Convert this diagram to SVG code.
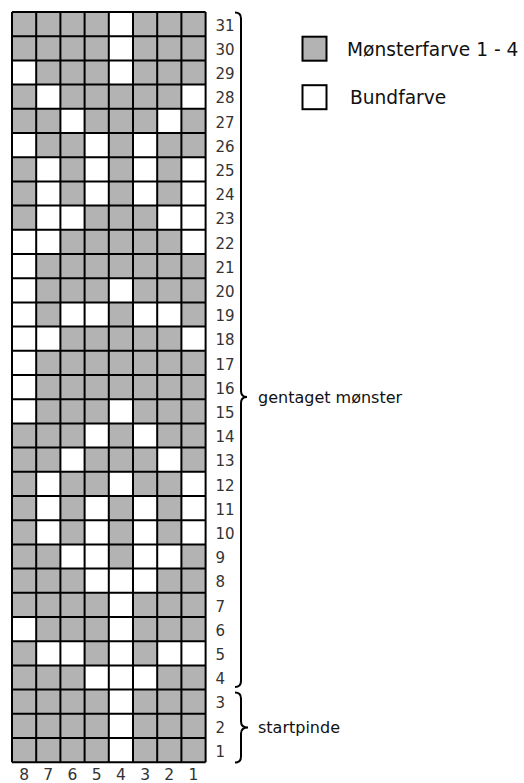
<svg xmlns="http://www.w3.org/2000/svg" width="524" height="783" viewBox="0 0 524 783">
<style>
text{font-family:"DejaVu Sans","Verdana",sans-serif;fill:#333}
.rn{font-size:15px}
.cn{font-size:15.5px;text-anchor:middle}
.lb{font-size:16px;fill:#111}
.lg{font-size:18.6px;fill:#111}
.w{fill:#fff}
.grid{fill:none;stroke:#000;stroke-width:2;vector-effect:non-scaling-stroke}
.br{fill:none;stroke:#000;stroke-width:2}
.box{stroke:#000;stroke-width:2}
</style>
<rect width="524" height="783" fill="#fff"/>
<g id="chart" transform="translate(12 12) scale(24.2)">
<rect x="0" y="0" width="8" height="31" fill="#b3b3b3"/>
<g class="w">
<rect x="4" y="0" width="1" height="1"/>
<rect x="4" y="1" width="1" height="1"/>
<rect x="0" y="2" width="1" height="1"/><rect x="4" y="2" width="1" height="1"/>
<rect x="1" y="3" width="1" height="1"/><rect x="7" y="3" width="1" height="1"/>
<rect x="2" y="4" width="1" height="1"/><rect x="6" y="4" width="1" height="1"/>
<rect x="0" y="5" width="1" height="1"/><rect x="3" y="5" width="1" height="1"/><rect x="5" y="5" width="1" height="1"/>
<rect x="1" y="6" width="1" height="1"/><rect x="3" y="6" width="1" height="1"/><rect x="5" y="6" width="1" height="1"/><rect x="7" y="6" width="1" height="1"/>
<rect x="1" y="7" width="1" height="1"/><rect x="3" y="7" width="1" height="1"/><rect x="5" y="7" width="1" height="1"/><rect x="7" y="7" width="1" height="1"/>
<rect x="1" y="8" width="2" height="1"/><rect x="6" y="8" width="2" height="1"/>
<rect x="0" y="9" width="2" height="1"/><rect x="7" y="9" width="1" height="1"/>
<rect x="0" y="10" width="1" height="1"/>
<rect x="0" y="11" width="1" height="1"/><rect x="4" y="11" width="1" height="1"/>
<rect x="0" y="12" width="1" height="1"/><rect x="2" y="12" width="2" height="1"/><rect x="5" y="12" width="2" height="1"/>
<rect x="0" y="13" width="2" height="1"/><rect x="7" y="13" width="1" height="1"/>
<rect x="0" y="14" width="1" height="1"/>
<rect x="0" y="15" width="1" height="1"/>
<rect x="0" y="16" width="1" height="1"/><rect x="4" y="16" width="1" height="1"/>
<rect x="3" y="17" width="1" height="1"/><rect x="5" y="17" width="1" height="1"/>
<rect x="2" y="18" width="1" height="1"/><rect x="6" y="18" width="1" height="1"/>
<rect x="1" y="19" width="1" height="1"/><rect x="4" y="19" width="1" height="1"/><rect x="7" y="19" width="1" height="1"/>
<rect x="1" y="20" width="1" height="1"/><rect x="3" y="20" width="1" height="1"/><rect x="5" y="20" width="1" height="1"/><rect x="7" y="20" width="1" height="1"/>
<rect x="1" y="21" width="1" height="1"/><rect x="3" y="21" width="1" height="1"/><rect x="5" y="21" width="1" height="1"/><rect x="7" y="21" width="1" height="1"/>
<rect x="2" y="22" width="2" height="1"/><rect x="5" y="22" width="2" height="1"/>
<rect x="3" y="23" width="3" height="1"/>
<rect x="4" y="24" width="1" height="1"/>
<rect x="0" y="25" width="1" height="1"/><rect x="4" y="25" width="1" height="1"/>
<rect x="1" y="26" width="2" height="1"/><rect x="4" y="26" width="1" height="1"/><rect x="6" y="26" width="2" height="1"/>
<rect x="3" y="27" width="3" height="1"/>
<rect x="4" y="28" width="1" height="1"/>
<rect x="4" y="29" width="1" height="1"/>
<rect x="4" y="30" width="1" height="1"/>
</g>
<path class="grid" d="M0 0V31M1 0V31M2 0V31M3 0V31M4 0V31M5 0V31M6 0V31M7 0V31M8 0V31M0 0H8M0 1H8M0 2H8M0 3H8M0 4H8M0 5H8M0 6H8M0 7H8M0 8H8M0 9H8M0 10H8M0 11H8M0 12H8M0 13H8M0 14H8M0 15H8M0 16H8M0 17H8M0 18H8M0 19H8M0 20H8M0 21H8M0 22H8M0 23H8M0 24H8M0 25H8M0 26H8M0 27H8M0 28H8M0 29H8M0 30H8M0 31H8"/>
</g>
<g id="row-numbers" class="rn" transform="translate(0 1.2)">
<text x="215.5" y="29.6">31</text><text x="215.5" y="53.8">30</text><text x="215.5" y="78">29</text><text x="215.5" y="102.2">28</text><text x="215.5" y="126.4">27</text><text x="215.5" y="150.6">26</text><text x="215.5" y="174.8">25</text><text x="215.5" y="199">24</text><text x="215.5" y="223.2">23</text><text x="215.5" y="247.4">22</text><text x="215.5" y="271.6">21</text><text x="215.5" y="295.8">20</text><text x="215.5" y="320">19</text><text x="215.5" y="344.2">18</text><text x="215.5" y="368.4">17</text><text x="215.5" y="392.6">16</text><text x="215.5" y="416.8">15</text><text x="215.5" y="441">14</text><text x="215.5" y="465.2">13</text><text x="215.5" y="489.4">12</text><text x="215.5" y="513.6">11</text><text x="215.5" y="537.8">10</text><text x="215.5" y="562">9</text><text x="215.5" y="586.2">8</text><text x="215.5" y="610.4">7</text><text x="215.5" y="634.6">6</text><text x="215.5" y="658.8">5</text><text x="215.5" y="683">4</text><text x="215.5" y="707.2">3</text><text x="215.5" y="731.4">2</text><text x="215.5" y="755.6">1</text>
</g>
<g id="col-numbers" class="cn">
<text x="24.1" y="779.5">8</text><text x="48.3" y="779.5">7</text><text x="72.5" y="779.5">6</text><text x="96.7" y="779.5">5</text><text x="120.9" y="779.5">4</text><text x="145.1" y="779.5">3</text><text x="169.3" y="779.5">2</text><text x="193.5" y="779.5">1</text>
</g>
<g id="brace-repeat">
<path class="br" d="M235 12.5Q241 12.5 241 18.5V391Q241 397 247 397Q241 397 241 403V681Q241 687 235 687"/>
<text class="lb" x="258" y="402.5">gentaget mønster</text>
</g>
<g id="brace-start">
<path class="br" d="M235 692.5Q241 692.5 241 698.5V721.5Q241 727.5 248 727.5Q241 727.5 241 733.5V756.5Q241 762.5 235 762.5"/>
<text class="lb" x="258" y="733">startpinde</text>
</g>
<g id="legend-pattern">
<rect class="box" x="302.5" y="36.7" width="24" height="24" fill="#b3b3b3"/>
<text class="lg" x="347" y="56">Mønsterfarve 1 - 4</text>
</g>
<g id="legend-base">
<rect class="box" x="302.5" y="85.2" width="24" height="24" fill="#fff"/>
<text class="lg" x="350" y="103.5">Bundfarve</text>
</g>
</svg>
